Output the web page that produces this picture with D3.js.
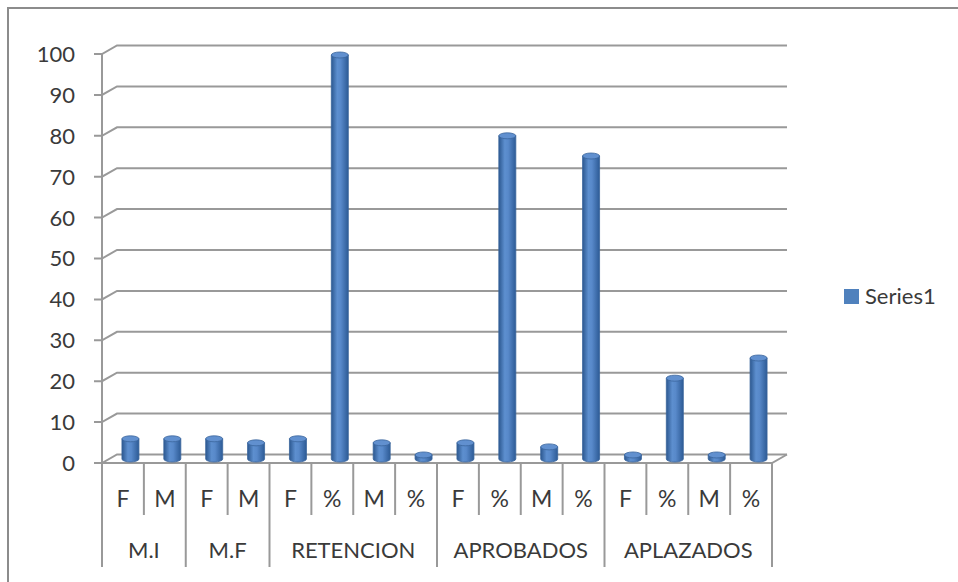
<html>
<head>
  <script src="https://cdn.jsdelivr.net/npm/d3@7/dist/d3.min.js"></script>
  <style>
  body { margin: 0; background: #fff; }
  text { font-family: Lato, "Open Sans", sans-serif; fill: #3a3a3a; }
  </style>
</head>
<body>
  <div id="chart"></div>
  <script>
  // data
  var groups = ["M.I", "M.F", "RETENCION", "APROBADOS", "APLAZADOS"];
  var groupCounts = [2, 2, 4, 4, 4];
  var subLabels = ["F", "M", "F", "M", "F", "%", "M", "%", "F", "%", "M", "%", "F", "%", "M", "%"];
  var values = [5, 5, 5, 4, 5, 100, 4, 1, 4, 80, 3, 75, 1, 20, 1, 25];
  var yTicks = [0, 10, 20, 30, 40, 50, 60, 70, 80, 90, 100];
  var seriesName = "Series1";

  var width = 958, height = 582;
  var depthX = 15, depthY = -8.5; // floor depth offset (fake 3d)
  var lineCol = "#999";

  var svg = d3.select("#chart").append("svg").attr("width", width).attr("height", height);

  // outer chart border
  svg.append("rect").attr("x", 8).attr("y", 8).attr("width", 980).attr("height", 600)
    .attr("fill", "none").attr("stroke", "#8c8c8c").attr("stroke-width", 2);

  var x = d3.scaleBand().domain(d3.range(values.length)).range([102, 772]);
  var y = d3.scaleLinear().domain([0, 100]).range([463, 54]);
  // bars sit mid-depth, perspective makes them a touch shorter
  var yBar = d3.scaleLinear().domain([0, 100]).range([459, 55]);

  // gradient for the cylinders
  var defs = svg.append("defs");
  var grad = defs.append("linearGradient").attr("id", "cyl").attr("x1", "0").attr("x2", "1").attr("y1", "0").attr("y2", "0");
  grad.append("stop").attr("offset", "0%").attr("stop-color", "#2c5890");
  grad.append("stop").attr("offset", "35%").attr("stop-color", "#5d8fcf");
  grad.append("stop").attr("offset", "55%").attr("stop-color", "#5889ca");
  grad.append("stop").attr("offset", "100%").attr("stop-color", "#2d5b96");

  // back gridlines + diagonals to front axis
  var grid = svg.append("g");
  yTicks.forEach(function(t) {
    var yf = y(t);
    grid.append("path")
      .attr("d", "M" + 94 + "," + yf + "H" + x.range()[0] + "L" + (x.range()[0] + depthX) + "," + (yf + depthY) + "H" + (x.range()[1] + depthX))
      .attr("fill", "none").attr("stroke", lineCol).attr("stroke-width", 2);
  });

  // floor front edge and right side
  svg.append("path")
    .attr("d", "M" + x.range()[0] + "," + y(0) + "H" + x.range()[1] + "l" + depthX + "," + depthY)
    .attr("fill", "none").attr("stroke", lineCol).attr("stroke-width", 2);

  // front vertical axis line
  svg.append("line").attr("x1", 102).attr("x2", 102).attr("y1", y(100)).attr("y2", 567)
    .attr("stroke", lineCol).attr("stroke-width", 2);

  // y labels
  svg.selectAll(".ylab").data(yTicks).enter().append("text")
    .attr("class", "ylab")
    .attr("x", 75).attr("y", function(d) { return y(d); })
    .attr("dy", "0.36em")
    .attr("text-anchor", "end")
    .attr("font-size", 22)
    .text(function(d) { return d; });

  // category separators
  var starts = [], s = 0;
  groupCounts.forEach(function(c) { starts.push(s); s += c; });
  d3.range(values.length).forEach(function(i) {
    if (i == 0) return;
    var isGroup = starts.indexOf(i) >= 0;
    svg.append("line").attr("x1", x(i)).attr("x2", x(i))
      .attr("y1", y(0)).attr("y2", isGroup ? 567 : 515)
      .attr("stroke", lineCol).attr("stroke-width", 2);
  });
  svg.append("line").attr("x1", x.range()[1]).attr("x2", x.range()[1])
    .attr("y1", y(0)).attr("y2", 567).attr("stroke", lineCol).attr("stroke-width", 2);

  // sub labels
  svg.selectAll(".sub").data(subLabels).enter().append("text")
    .attr("class", "sub")
    .attr("x", function(d, i) { return x(i) + x.bandwidth() / 2; })
    .attr("y", 507)
    .attr("text-anchor", "middle")
    .attr("font-size", 23)
    .text(function(d) { return d; });

  // group labels
  svg.selectAll(".grp").data(groups).enter().append("text")
    .attr("class", "grp")
    .attr("x", function(d, i) { return x(starts[i]) + x.bandwidth() * groupCounts[i] / 2; })
    .attr("y", 558)
    .attr("text-anchor", "middle")
    .attr("font-size", 22)
    .text(function(d) { return d; });

  // cylinders
  var rx = 8.5, ry = 3;
  var bars = svg.selectAll(".bar").data(values).enter().append("g").attr("class", "bar");
  bars.append("path")
    .attr("d", function(v, i) {
      var cx = x(i) + x.bandwidth() / 2 + depthX / 2;
      var y0 = yBar(0), y1 = yBar(v);
      return "M" + (cx - rx) + "," + y1 + "V" + y0 +
        "A" + rx + "," + ry + " 0 0 0 " + (cx + rx) + "," + y0 + "V" + y1 + "Z";
    })
    .attr("fill", "url(#cyl)").attr("stroke", "#3a659c").attr("stroke-width", 0.8);
  bars.append("ellipse")
    .attr("cx", function(v, i) { return x(i) + x.bandwidth() / 2 + depthX / 2; })
    .attr("cy", function(v) { return yBar(v); })
    .attr("rx", rx).attr("ry", ry)
    .attr("fill", "#6190cf").attr("stroke", "#3a659c").attr("stroke-width", 0.8);

  // legend
  svg.append("rect").attr("x", 844).attr("y", 289).attr("width", 15).attr("height", 15).attr("fill", "#4f81bd");
  svg.append("text").attr("x", 865).attr("y", 304).attr("font-size", 22).text(seriesName);
  </script>
</body>
</html>
